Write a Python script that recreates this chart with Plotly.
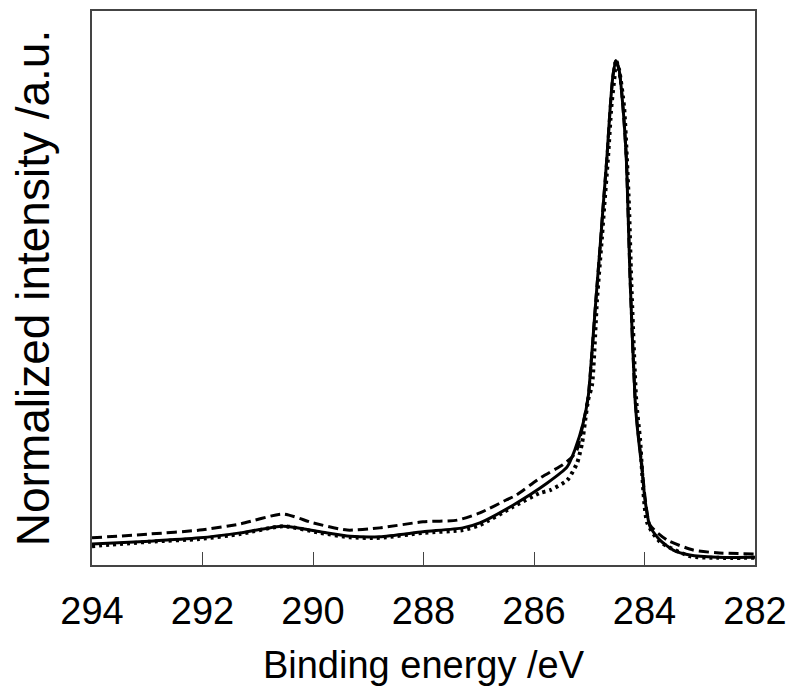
import plotly.graph_objects as go

# Binding energy (eV) and normalized intensity
x_solid = [294.0, 292.95, 292.05, 291.32, 290.54, 289.87, 289.33, 288.79, 288.01, 287.29,
           286.98, 286.38, 285.76, 285.40, 285.26, 285.11, 285.02, 284.99, 284.88, 284.79,
           284.75, 284.68, 284.62, 284.57, 284.52, 284.46, 284.39, 284.33, 284.30, 284.26,
           284.17, 284.12, 284.05, 283.99, 283.90, 283.72, 283.48, 283.18, 282.69, 282.0]
y_solid = [0.038, 0.043, 0.049, 0.058, 0.070, 0.060, 0.052, 0.051, 0.060, 0.067,
           0.076, 0.108, 0.148, 0.177, 0.208, 0.256, 0.303, 0.334, 0.478, 0.592,
           0.646, 0.736, 0.827, 0.884, 0.910, 0.894, 0.827, 0.736, 0.646, 0.514,
           0.298, 0.238, 0.177, 0.117, 0.069, 0.045, 0.027, 0.018, 0.014, 0.014]

x_dash = [294.0, 292.95, 292.05, 291.32, 290.54, 290.0, 289.38, 288.79, 288.01, 287.39,
          286.98, 286.49, 286.34, 285.89, 285.48, 285.31, 285.22, 285.11, 285.02, 284.99,
          284.88, 284.79, 284.75, 284.68, 284.62, 284.57, 284.52, 284.46, 284.39, 284.33,
          284.30, 284.26, 284.17, 284.12, 284.05, 283.99, 283.90, 283.59, 283.12, 282.69, 282.0]
y_dash = [0.049, 0.056, 0.063, 0.074, 0.092, 0.076, 0.063, 0.067, 0.078, 0.081,
          0.094, 0.118, 0.125, 0.157, 0.181, 0.195, 0.208, 0.256, 0.303, 0.334,
          0.478, 0.592, 0.646, 0.736, 0.827, 0.884, 0.910, 0.894, 0.827, 0.736,
          0.646, 0.514, 0.300, 0.242, 0.182, 0.122, 0.072, 0.045, 0.027, 0.022, 0.020]

x_dot = [294.0, 292.95, 292.05, 291.32, 290.54, 289.87, 289.33, 288.79, 288.01, 287.29,
         286.98, 286.38, 285.89, 285.71, 285.40, 285.22, 285.13, 285.08, 285.02, 284.95,
         284.86, 284.77, 284.73, 284.66, 284.60, 284.54, 284.52, 284.46, 284.37, 284.32,
         284.28, 284.24, 284.15, 284.08, 283.95, 283.72, 283.18, 282.69, 282.0]
y_dot = [0.034, 0.042, 0.047, 0.056, 0.070, 0.058, 0.050, 0.049, 0.058, 0.063,
         0.072, 0.105, 0.130, 0.135, 0.153, 0.184, 0.220, 0.256, 0.298, 0.325,
         0.478, 0.592, 0.646, 0.736, 0.827, 0.884, 0.912, 0.894, 0.827, 0.736,
         0.646, 0.514, 0.298, 0.226, 0.076, 0.042, 0.016, 0.013, 0.013]

x_ticks = [294, 292, 290, 288, 286, 284, 282]

fig = go.Figure()
fig.add_trace(go.Scatter(x=x_dash, y=y_dash, mode="lines",
                         line=dict(color="black", width=3, dash="10px,5px", shape="spline", smoothing=0.6)))
fig.add_trace(go.Scatter(x=x_dot, y=y_dot, mode="lines",
                         line=dict(color="black", width=4, dash="3px,4px", shape="spline", smoothing=0.6)))
fig.add_trace(go.Scatter(x=x_solid, y=y_solid, mode="lines",
                         line=dict(color="black", width=3, shape="spline", smoothing=0.6)))

fig.update_layout(
    width=794, height=688,
    margin=dict(l=92, r=39, t=11, b=123),
    plot_bgcolor="white", paper_bgcolor="white",
    showlegend=False,
    font=dict(family="Liberation Sans, Arial", color="black"),
)
fig.update_xaxes(
    range=[294, 282], tickvals=x_ticks, ticktext=[str(t) for t in x_ticks],
    ticks="inside", ticklen=13, tickwidth=1.2, tickcolor="#444",
    showline=True, linecolor="#444", linewidth=1.5, mirror=True,
    showgrid=False, zeroline=False, automargin=False,
    tickfont=dict(size=38),
    ticklabelstandoff=12,
    title=dict(text="Binding energy /eV", font=dict(size=38), standoff=20),
)
fig.update_yaxes(
    range=[0, 1], showticklabels=False, ticks="",
    showline=True, linecolor="#444", linewidth=1.5, mirror=True,
    showgrid=False, zeroline=False, automargin=False,
    title=dict(text="Normalized intensity /a.u.", font=dict(size=46), standoff=26),
)

fig.write_html("out.html")
